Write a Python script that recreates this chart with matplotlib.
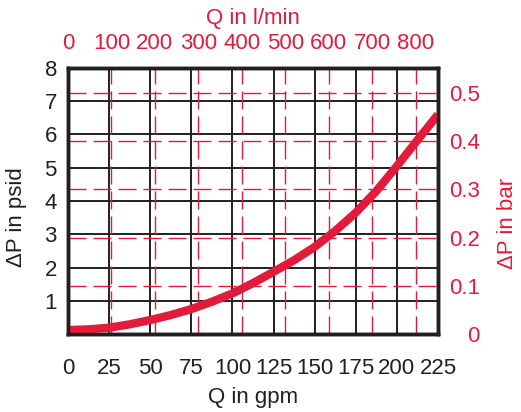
import matplotlib
matplotlib.use("Agg")
import matplotlib.pyplot as plt

plt.rcParams['font.family'] = ['Liberation Sans', 'DejaVu Sans']

RED = '#e31b3b'
DARK = '#231f20'
FS = 16

# flow in gpm and pressure drop in psid
gpm = [0, 12.5, 25, 37.5, 50, 62.5, 75, 87.5, 100, 112.5, 125, 137.5,
       150, 162.5, 175, 187.5, 200, 212.5, 225]
psid = [0.12, 0.14, 0.19, 0.29, 0.42, 0.57, 0.75, 0.97, 1.22, 1.53, 1.87, 2.22,
        2.62, 3.1, 3.65, 4.3, 5.05, 5.83, 6.6]

gpm_ticks = [0, 25, 50, 75, 100, 125, 150, 175, 200, 225]
psid_ticks = [1, 2, 3, 4, 5, 6, 7, 8]
lpm_ticks = [0, 100, 200, 300, 400, 500, 600, 700, 800]
bar_ticks = [0, 0.1, 0.2, 0.3, 0.4, 0.5]
bar_labels = ['0', '0.1', '0.2', '0.3', '0.4', '0.5']

GPM_TO_LPM = 3.78541
PSI_TO_BAR = 1 / 14.5038

fig = plt.figure(figsize=(5.21, 4.12), dpi=100)
ax = fig.add_axes([68 / 521, 78 / 412, 370 / 521, 266 / 412])
ax.set_xlim(0, 225)
ax.set_ylim(0, 8)
ax.set_xticks(gpm_ticks)
ax.set_yticks(psid_ticks)
ax.grid(True, color=DARK, lw=1.4)
ax.tick_params(length=0, labelsize=FS, colors=DARK)
ax.tick_params(axis='x', pad=17)
ax.tick_params(axis='y', pad=8)
ax.set_xlabel('Q in gpm', fontsize=FS, color=DARK)
ax.xaxis.set_label_coords(0.5, -0.2)
ax.set_ylabel('\u0394P in psid', fontsize=FS, color=DARK)
ax.yaxis.set_label_coords(-0.112, 0.44)

## top axis: l/min
axt = ax.twiny()
axt.set_xlim(0, 225 * GPM_TO_LPM)
axt.set_xticks(lpm_ticks)
axt.tick_params(length=0, labelsize=FS, colors=RED, pad=10)
axt.set_xlabel('Q in l/min', fontsize=FS, color=RED)
axt.xaxis.set_label_coords(0.5, 1.165)
axt.grid(True, axis='x', color=RED, lw=1.0, dashes=(13, 5))

## right axis: bar
axr = axt.twinx()
axr.set_ylim(0, 8 * PSI_TO_BAR)
axr.set_yticks(bar_ticks)
axr.set_yticklabels(bar_labels, ha='right')
axr.tick_params(length=0, labelsize=FS, colors=RED, pad=30)
axr.set_ylabel('\u0394P in bar', fontsize=FS, color=RED)
axr.yaxis.set_label_coords(1.16, 0.417)
axr.grid(True, axis='y', color=RED, lw=1.0, dashes=(13, 5))

## curve on top of all grids, in gpm/psid units
axr.plot(gpm, psid, color=RED, lw=6, solid_capstyle='butt',
         solid_joinstyle='round', transform=ax.transData)

for a in (ax, axt, axr):
    for sp in a.spines.values():
        sp.set_linewidth(2.4)
        sp.set_color(DARK)

fig.savefig('out.png', dpi=100)
